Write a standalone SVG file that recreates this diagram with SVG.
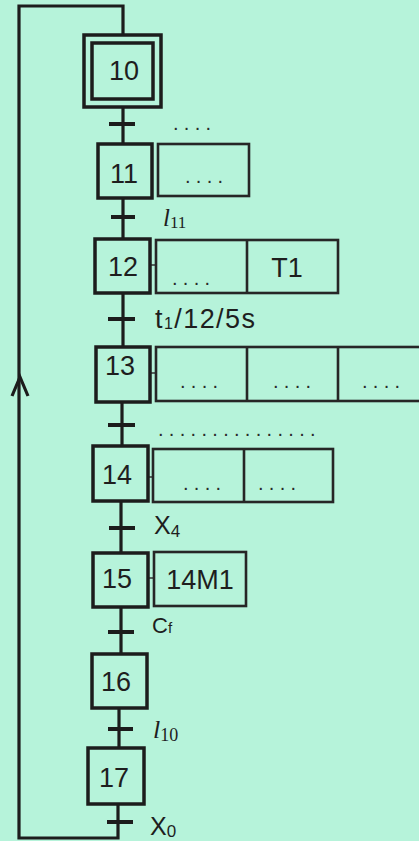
<svg xmlns="http://www.w3.org/2000/svg" width="419" height="841" viewBox="0 0 419 841">
<style>
.step{fill:none;stroke:#1c1c1c;stroke-width:3.5}
.act{fill:none;stroke:#262626;stroke-width:2.6}
.wire{fill:none;stroke:#1c1c1c;stroke-width:3.2}
.bar{stroke:#1c1c1c;stroke-width:4}
.lnk{stroke:#333;stroke-width:1.5}
.num{font-family:"Liberation Sans",Arial,sans-serif;font-size:27px;fill:#1e1e1e;text-anchor:middle}
.lbl{font-family:"Liberation Sans",Arial,sans-serif;fill:#1e1e1e}
.dots{font-family:"Liberation Sans",Arial,sans-serif;font-size:20px;fill:#2a2a2a;letter-spacing:5.3px}
.ser{font-family:"Liberation Serif","Times New Roman",serif;fill:#1e1e1e}
</style>
<rect x="0" y="0" width="419" height="841" fill="#b6f3da"/>
<g id="connectors">
<path class="wire" d="M118,804 V838 H19 V6 H123 V35"/>
<polyline class="wire" points="12,396 20,377 28,396" stroke-width="2.5"/>
<line class="wire" x1="123" y1="107" x2="123" y2="144"/>
<line class="wire" x1="123" y1="198" x2="123" y2="239"/>
<line class="wire" x1="123" y1="293" x2="123" y2="347"/>
<line class="wire" x1="122" y1="402" x2="122" y2="446"/>
<line class="wire" x1="121" y1="501" x2="121" y2="553"/>
<line class="wire" x1="121" y1="607" x2="121" y2="654"/>
<line class="wire" x1="119" y1="708" x2="119" y2="748"/>
<line class="bar" x1="109" y1="124" x2="135" y2="124"/>
<line class="bar" x1="111" y1="217" x2="135" y2="217"/>
<line class="bar" x1="108" y1="319" x2="135" y2="319"/>
<line class="bar" x1="108" y1="425" x2="135" y2="425"/>
<line class="bar" x1="109" y1="528" x2="135" y2="528"/>
<line class="bar" x1="108" y1="632" x2="134" y2="632"/>
<line class="bar" x1="108" y1="729" x2="133" y2="729"/>
<line class="bar" x1="107" y1="822" x2="133" y2="822"/>
<line class="lnk" x1="150" y1="265" x2="156" y2="265"/>
<line class="lnk" x1="150" y1="373" x2="156" y2="373"/>
<line class="lnk" x1="148" y1="477" x2="153" y2="477"/>
<line class="lnk" x1="148" y1="578" x2="154" y2="578"/>
</g>
<g id="labels">
<text class="dots" x="173" y="130">....</text>
<text class="ser" x="163" y="226" font-size="25" font-style="italic">l<tspan font-style="normal" font-size="17" dy="2">11</tspan></text>
<text class="lbl" x="155" y="328" font-size="27" textLength="100" lengthAdjust="spacing">t<tspan font-size="16" dy="1">1</tspan><tspan dy="-1">/12/5s</tspan></text>
<text class="dots" x="158" y="436">...............</text>
<text class="lbl" x="154" y="534" font-size="25">X<tspan font-size="17" dy="3">4</tspan></text>
<text class="lbl" x="152" y="633" font-size="22">C<tspan font-size="15">f</tspan></text>
<text class="ser" x="153" y="738" font-size="26" font-style="italic">l<tspan font-style="normal" font-size="18" dy="3">10</tspan></text>
<text class="lbl" x="150" y="835" font-size="25">X<tspan font-size="17" dy="2">0</tspan></text>
</g>
<g id="step10">
<rect class="step" x="84" y="35" width="77" height="72"/>
<rect class="step" x="92" y="43" width="61" height="56"/>
<text class="num" x="124" y="80">10</text>
</g>
<g id="step11">
<rect class="step" x="98" y="144" width="54" height="54"/>
<text class="num" x="124" y="183">11</text>
<rect class="act" x="158" y="144" width="91" height="52"/>
<text class="dots" x="185" y="183">....</text>
</g>
<g id="step12">
<rect class="step" x="95" y="239" width="55" height="54"/>
<text class="num" x="123" y="276">12</text>
<rect class="act" x="156" y="240" width="182" height="53"/>
<line class="act" x1="247" y1="240" x2="247" y2="293"/>
<text class="dots" x="172" y="285">....</text>
<text class="num" x="287" y="277">T1</text>
</g>
<g id="step13">
<rect class="step" x="96" y="347" width="54" height="55"/>
<text class="num" x="120" y="375">13</text>
<rect class="act" x="156" y="347" width="274" height="54"/>
<line class="act" x1="247" y1="347" x2="247" y2="401"/>
<line class="act" x1="338" y1="347" x2="338" y2="401"/>
<text class="dots" x="180" y="388">....</text>
<text class="dots" x="273" y="388">....</text>
<text class="dots" x="362" y="388">....</text>
</g>
<g id="step14">
<rect class="step" x="93" y="446" width="55" height="55"/>
<text class="num" x="117" y="484">14</text>
<rect class="act" x="153" y="449" width="180" height="53"/>
<line class="act" x1="244" y1="449" x2="244" y2="502"/>
<text class="dots" x="183" y="490">....</text>
<text class="dots" x="258" y="490">....</text>
</g>
<g id="step15">
<rect class="step" x="93" y="553" width="55" height="54"/>
<text class="num" x="117" y="588">15</text>
<rect class="act" x="154" y="552" width="92" height="54"/>
<text class="num" x="200" y="589">14M1</text>
</g>
<g id="step16">
<rect class="step" x="92" y="654" width="55" height="54"/>
<text class="num" x="116" y="691">16</text>
</g>
<g id="step17">
<rect class="step" x="88" y="748" width="56" height="56"/>
<text class="num" x="114" y="787">17</text>
</g>
</svg>
